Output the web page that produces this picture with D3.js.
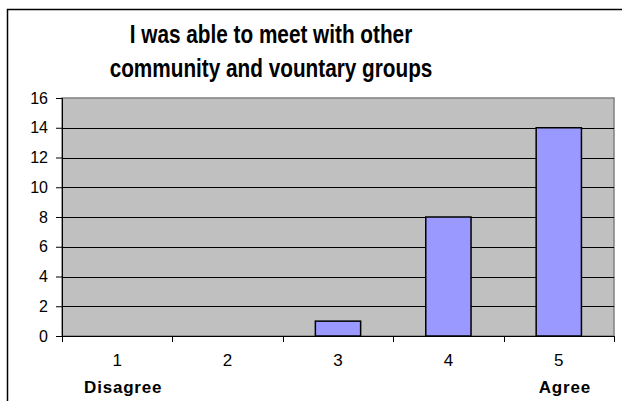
<!DOCTYPE html>
<html>
<head>
<meta charset="utf-8">
<script src="https://cdn.jsdelivr.net/npm/d3@7"></script>
<style>
  body { margin: 0; background: #fff; }
  text { font-family: "Liberation Sans", Arial, sans-serif; }
</style>
</head>
<body>
<div id="container"></div>
<script>
const width = 622;
const height = 401;

const titleLines = ['I was able to meet with other', 'community and vountary groups'];
const categories = ['1', '2', '3', '4', '5'];
const counts = [0, 0, 1, 8, 14];
const endLabels = ['Disagree', '', '', '', 'Agree'];
const yTicks = [0, 2, 4, 6, 8, 10, 12, 14, 16];

const plot = { left: 62, right: 614, top: 98, bottom: 336 };

const svg = d3.select('#container')
    .append('svg')
    .attr('width', width)
    .attr('height', height);

// chart frame (runs off the right and bottom edge in the original)
svg.append('rect')
    .attr('x', 7.5).attr('y', 9.5)
    .attr('width', 700).attr('height', 500)
    .attr('fill', 'none')
    .attr('stroke', '#000')
    .attr('stroke-width', 1.5);

// title
const title = svg.append('g')
    .attr('transform', 'translate(271,0) scale(0.83,1)');
titleLines.forEach((line, i) => {
    title.append('text')
        .attr('x', 0)
        .attr('y', 43 + i * 34)
        .attr('text-anchor', 'middle')
        .attr('font-size', 25)
        .attr('font-weight', 'bold')
        .attr('fill', '#000')
        .text(line);
});

const xScale = d3.scaleBand()
    .domain(categories)
    .range([plot.left, plot.right]);
const yScale = d3.scaleLinear()
    .domain([0, 16])
    .range([plot.bottom, plot.top]);

// plot area
svg.append('rect')
    .attr('x', plot.left).attr('y', plot.top)
    .attr('width', plot.right - plot.left)
    .attr('height', plot.bottom - plot.top)
    .attr('fill', '#c0c0c0')
    .attr('stroke', '#808080')
    .attr('stroke-width', 1.5);

// gridlines
svg.append('g')
    .selectAll('line')
    .data(yTicks.filter(d => d > 0 && d < 16))
    .enter()
    .append('line')
    .attr('x1', plot.left).attr('x2', plot.right)
    .attr('y1', d => Math.round(yScale(d)) + 0.5)
    .attr('y2', d => Math.round(yScale(d)) + 0.5)
    .attr('stroke', '#000');

// bars
const barW = xScale.bandwidth() * 0.41;
svg.append('g')
    .selectAll('rect')
    .data(categories.map((c, i) => ({ cat: c, v: counts[i] })).filter(d => d.v > 0))
    .enter()
    .append('rect')
    .attr('x', d => xScale(d.cat) + (xScale.bandwidth() - barW) / 2)
    .attr('y', d => yScale(d.v))
    .attr('width', barW)
    .attr('height', d => yScale(0) - yScale(d.v))
    .attr('fill', '#9999ff')
    .attr('stroke', '#000')
    .attr('stroke-width', 1.5);

// y axis
const yAxis = d3.axisLeft(yScale)
    .tickValues(yTicks)
    .tickSize(6)
    .tickPadding(8);
const yG = svg.append('g')
    .attr('transform', 'translate(' + plot.left + ',0)')
    .call(yAxis);
yG.attr('font-size', 16).attr('font-family', '"Liberation Sans", Arial, sans-serif');
yG.selectAll('text').attr('font-size', 16).attr('fill', '#000');
yG.selectAll('line').attr('stroke', '#000');
yG.select('.domain').attr('stroke', '#000');

// x axis: ticks on category boundaries
const xAxisG = svg.append('g');
xAxisG.append('line')
    .attr('x1', plot.left).attr('x2', plot.right)
    .attr('y1', plot.bottom + 0.5).attr('y2', plot.bottom + 0.5)
    .attr('stroke', '#000');
const boundaries = categories.map(c => xScale(c)).concat([plot.right]);
xAxisG.selectAll('.xt')
    .data(boundaries)
    .enter()
    .append('line')
    .attr('class', 'xt')
    .attr('x1', d => Math.round(d) + 0.5).attr('x2', d => Math.round(d) + 0.5)
    .attr('y1', plot.bottom).attr('y2', plot.bottom + 6)
    .attr('stroke', '#000');

xAxisG.selectAll('.xl')
    .data(categories)
    .enter()
    .append('text')
    .attr('class', 'xl')
    .attr('x', d => xScale(d) + xScale.bandwidth() / 2)
    .attr('y', 366)
    .attr('text-anchor', 'middle')
    .attr('font-size', 17)
    .text(d => d);

xAxisG.selectAll('.xe')
    .data(categories.map((c, i) => ({ cat: c, label: endLabels[i] })).filter(d => d.label))
    .enter()
    .append('text')
    .attr('class', 'xe')
    .attr('x', d => xScale(d.cat) + xScale.bandwidth() / 2 + 6)
    .attr('y', 393)
    .attr('text-anchor', 'middle')
    .attr('font-size', 17)
    .attr('font-weight', 'bold')
    .attr('letter-spacing', 0.8)
    .text(d => d.label);
</script>
</body>
</html>
